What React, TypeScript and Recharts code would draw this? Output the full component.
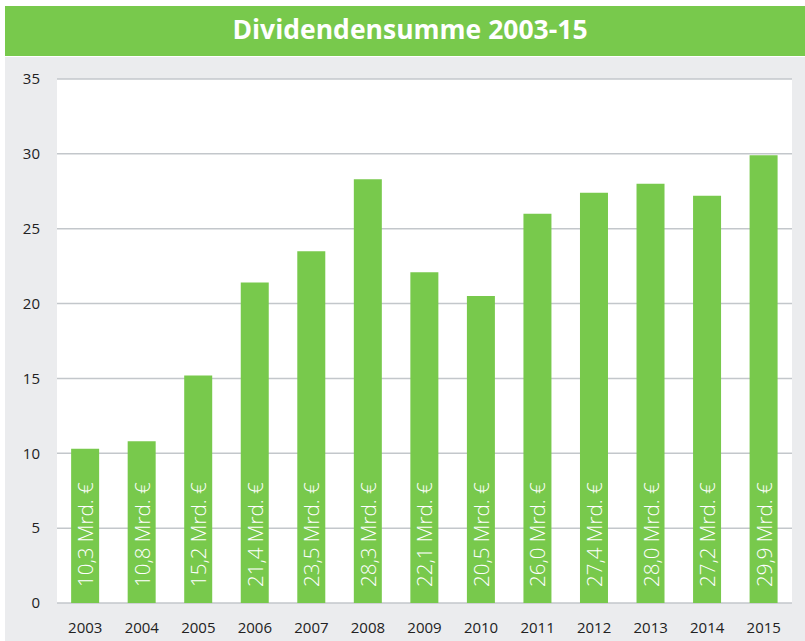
import { BarChart, Bar, XAxis, YAxis, CartesianGrid, LabelList } from 'recharts'

const years = ['2003', '2004', '2005', '2006', '2007', '2008', '2009', '2010', '2011', '2012', '2013', '2014', '2015']
const dividends = [10.3, 10.8, 15.2, 21.4, 23.5, 28.3, 22.1, 20.5, 26.0, 27.4, 28.0, 27.2, 29.9]
const yTicks = [0, 5, 10, 15, 20, 25, 30, 35]

const data = years.map((year, i) => ({ year, value: dividends[i] }))

const green = '#78c94c'
const font = '"Open Sans", sans-serif'

const fmt = (v: number) => `${v.toFixed(1).replace('.', ',')} Mrd. €`

const BarLabel = (props: any) => {
  const { x, y, width, height, value } = props
  const cx = x + width / 2
  const by = y + height - 16
  return (
    <text
      x={cx}
      y={by}
      transform={`rotate(-90, ${cx}, ${by})`}
      textAnchor="start"
      dominantBaseline="central"
      fill="#fff"
      fontSize={20.5}
      fontWeight={300}
      fontFamily={font}
    >
      {fmt(value)}
    </text>
  )
}

export default function App() {
  return (
    <div style={{ position: 'absolute', left: 0, top: 0, width: 805, height: 641, background: '#fff', fontFamily: font }}>
      <div
        style={{
          position: 'absolute', left: 5, top: 6, width: 800, height: 50, background: green,
          color: '#fff', fontWeight: 700, fontSize: 26.5, lineHeight: '46px', textAlign: 'center',
          paddingLeft: 10, boxSizing: 'border-box',
        }}
      >
        Dividendensumme 2003-15
      </div>
      <div style={{ position: 'absolute', left: 5, top: 57, width: 800, height: 584, background: '#ebecee' }}>
        <BarChart width={800} height={584} data={data} margin={{ top: 22, right: 13, left: 0, bottom: 0 }} barCategoryGap="25%">
          <CartesianGrid vertical={false} fill="#fff" stroke="#c3c7cb" strokeWidth={1.5} />
          <XAxis
            dataKey="year"
            axisLine={false}
            tickLine={false}
            tickMargin={13}
            height={38}
            tick={{ fontSize: 15, fill: '#222', fontFamily: font }}
          />
          <YAxis
            domain={[0, 35]}
            ticks={yTicks}
            axisLine={false}
            tickLine={false}
            tickMargin={11}
            width={52}
            tick={{ fontSize: 15, fill: '#222', fontFamily: font }}
          />
          <Bar dataKey="value" fill={green} isAnimationActive={false}>
            <LabelList dataKey="value" content={BarLabel} />
          </Bar>
        </BarChart>
      </div>
    </div>
  )
}
